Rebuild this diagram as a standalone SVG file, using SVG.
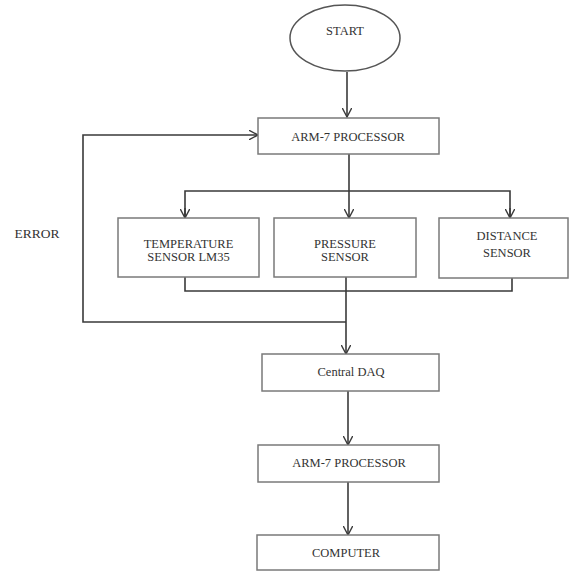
<svg xmlns="http://www.w3.org/2000/svg" width="577" height="572" viewBox="0 0 577 572">
<defs>
<style>
.box{fill:#fff;stroke:#7a7a7a;stroke-width:1.5}
.t{font-family:"Liberation Serif","Times New Roman",serif;font-size:12.5px;fill:#333;text-anchor:middle}
.c{fill:none;stroke:#3a3a3a;stroke-width:1.6}
</style>
<marker id="ah" viewBox="0 0 10 10" refX="9.5" refY="5" markerWidth="10" markerHeight="10" markerUnits="userSpaceOnUse" orient="auto">
<path d="M0,0 L9.5,5 L0,10" fill="none" stroke="#3a3a3a" stroke-width="1.4"/>
</marker>
</defs>
<rect width="577" height="572" fill="#fff"/>
<g id="connectors">
<path class="c" d="M347,72 V117" marker-end="url(#ah)"/>
<path class="c" d="M349,154 V218" marker-end="url(#ah)"/>
<path class="c" d="M185,218 V191 H510 V218" />
<path class="c" d="M185,208 V218" marker-end="url(#ah)"/>
<path class="c" d="M510,208 V218" marker-end="url(#ah)"/>
<path class="c" d="M185,277 V291 H512 V278"/>
<path class="c" d="M346,277 V354" marker-end="url(#ah)"/>
<path class="c" d="M346,322 H83 V135 H258" marker-end="url(#ah)"/>
<path class="c" d="M348,391 V445" marker-end="url(#ah)"/>
<path class="c" d="M348,482 V535" marker-end="url(#ah)"/>
</g>
<g id="start">
<ellipse cx="345" cy="38" rx="55" ry="33" fill="#fff" stroke="#555" stroke-width="1.5"/>
<text class="t" x="345" y="35">START</text>
</g>
<g id="arm1">
<rect class="box" x="258" y="118" width="181" height="36"/>
<text class="t" x="348" y="141">ARM-7 PROCESSOR</text>
</g>
<g id="temp">
<rect class="box" x="118" y="218" width="141" height="59"/>
<text class="t" x="188.5" y="248">TEMPERATURE</text>
<text class="t" x="188.5" y="261">SENSOR LM35</text>
</g>
<g id="pressure">
<rect class="box" x="274" y="218" width="142" height="59"/>
<text class="t" x="345" y="248">PRESSURE</text>
<text class="t" x="345" y="261">SENSOR</text>
</g>
<g id="distance">
<rect class="box" x="439" y="218" width="129" height="60"/>
<text class="t" x="507" y="240">DISTANCE</text>
<text class="t" x="507" y="257">SENSOR</text>
</g>
<g id="error">
<text class="t" x="37" y="238" style="font-size:13.5px">ERROR</text>
</g>
<g id="daq">
<rect class="box" x="262" y="354" width="177" height="37"/>
<text class="t" x="351" y="376">Central DAQ</text>
</g>
<g id="arm2">
<rect class="box" x="258" y="445" width="181" height="37"/>
<text class="t" x="349" y="467">ARM-7 PROCESSOR</text>
</g>
<g id="computer">
<rect class="box" x="257" y="535" width="182" height="35"/>
<text class="t" x="346" y="557">COMPUTER</text>
</g>
</svg>
